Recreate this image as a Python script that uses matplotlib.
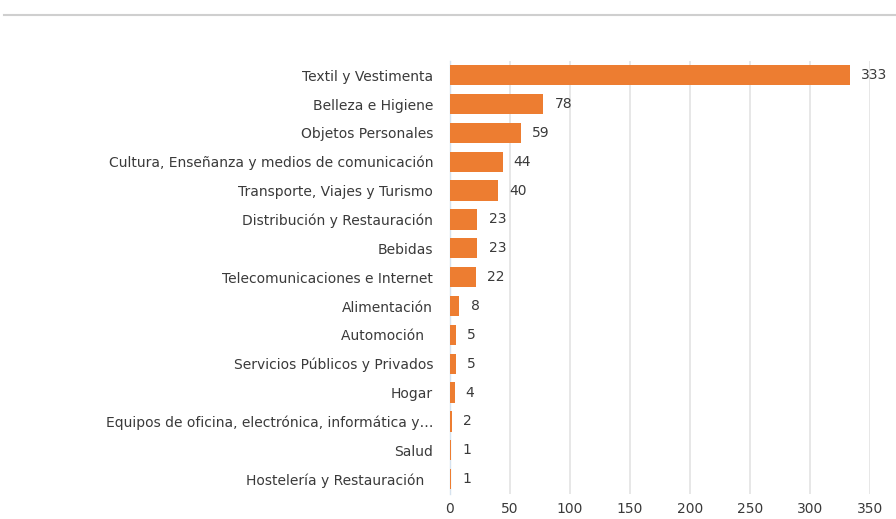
import matplotlib
matplotlib.use("Agg")
import matplotlib.pyplot as plt
from matplotlib.lines import Line2D

categories = [
    "Textil y Vestimenta",
    "Belleza e Higiene",
    "Objetos Personales",
    "Cultura, Enseñanza y medios de comunicación",
    "Transporte, Viajes y Turismo",
    "Distribución y Restauración",
    "Bebidas",
    "Telecomunicaciones e Internet",
    "Alimentación",
    "Automoción  ",
    "Servicios Públicos y Privados",
    "Hogar",
    "Equipos de oficina, electrónica, informática y…",
    "Salud",
    "Hostelería y Restauración  ",
]
values = [333, 78, 59, 44, 40, 23, 23, 22, 8, 5, 5, 4, 2, 1, 1]
x_ticks = [0, 50, 100, 150, 200, 250, 300, 350]

BAR_COLOR = "#ED7D31"
TEXT_COLOR = "#3A3A3A"
FS = 10

plt.rcParams["font.family"] = ["DejaVu Sans"]

fig = plt.figure(figsize=(8.96, 5.19), dpi=100)
ax = fig.add_axes([0.502, 0.049, 0.469, 0.834])

pos = list(range(len(categories)))
ax.barh(pos, values, height=0.7, color=BAR_COLOR, zorder=3)
ax.set_ylim(len(categories) - 0.5, -0.5)
ax.set_xlim(0, 350)
ax.set_xticks(x_ticks)
ax.set_yticks(pos)
ax.set_yticklabels(categories, fontsize=FS, color=TEXT_COLOR)
ax.tick_params(axis="y", length=0, pad=12)
ax.tick_params(axis="x", length=0, pad=6, labelsize=FS, labelcolor=TEXT_COLOR)

for i, v in enumerate(values):
    ax.annotate(str(v), (v, i), xytext=(8, 0), textcoords="offset points",
                va="center", ha="left", fontsize=FS, color=TEXT_COLOR)

ax.grid(axis="x", color="#E3E3E3", linewidth=1.2, zorder=0)
for s in ["top", "right", "bottom"]:
    ax.spines[s].set_visible(False)
ax.spines["left"].set_color("#D6E2EE")
ax.spines["left"].set_linewidth(1.0)

# header rule across the top of the figure
fig.add_artist(Line2D([0.005, 1.0], [1 - 15 / 519, 1 - 15 / 519],
                      transform=fig.transFigure, color="#CFCFCF", linewidth=1.5))

fig.savefig("out.png", dpi=100)
